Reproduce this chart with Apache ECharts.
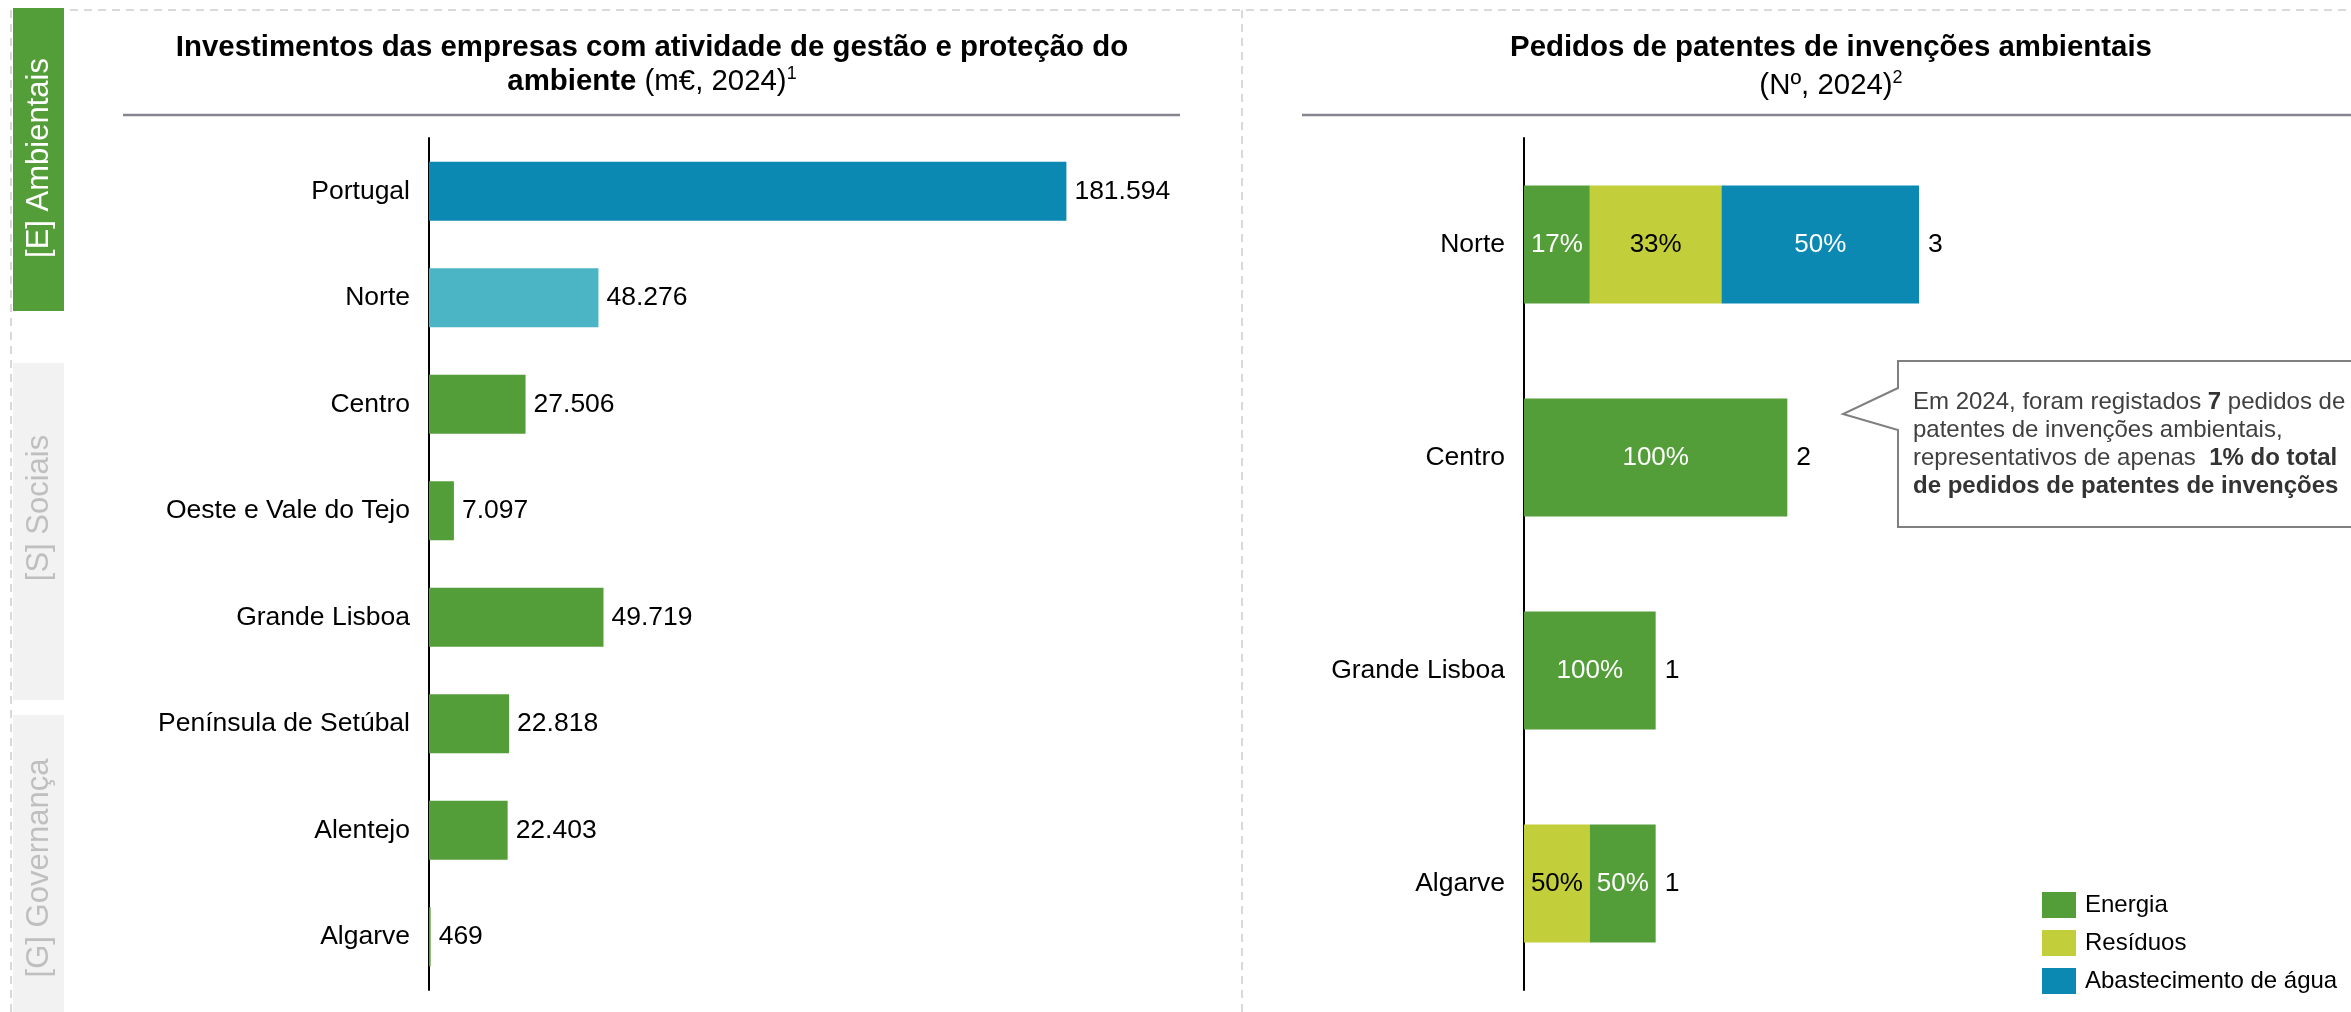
<!DOCTYPE html>
<html>
<head>
<meta charset="utf-8">
<script src="https://cdn.jsdelivr.net/npm/echarts@6/dist/echarts.min.js"></script>
<style>
  html, body { margin: 0; padding: 0; background: #fff; }
  #chart { width: 2351px; height: 1012px; }
</style>
</head>
<body>
<div id="chart"></div>
<script>
// Investimentos das empresas com atividade de gestão e proteção do ambiente (m€, 2024)
const investRegions = ['Portugal', 'Norte', 'Centro', 'Oeste e Vale do Tejo', 'Grande Lisboa', 'Península de Setúbal', 'Alentejo', 'Algarve'];
const investValues = [181594, 48276, 27506, 7097, 49719, 22818, 22403, 469];

// Pedidos de patentes de invenções ambientais (Nº, 2024), split by domain
const patentRegions = ['Norte', 'Centro', 'Grande Lisboa', 'Algarve'];
const energia = [0.5, 2, 1, 0.5];
const residuos = [1, 0, 0, 0.5];
const agua = [1.5, 0, 0, 0];
// regions where the Resíduos segment is drawn before Energia
const residuosFirst = ['Algarve'];

const FONT = 'Liberation Sans, Arial, sans-serif';
const GREEN = '#549E39';
const YELLOW = '#C2CF3A';
const BLUE = '#0B89B2';
const barColors = { 'Portugal': BLUE, 'Norte': '#4BB5C6' };

const fmtThousands = v => String(v).replace(/\B(?=(\d{3})+(?!\d))/g, '.');
const nz = v => (v > 0 ? v : null);

const totals = patentRegions.map((r, i) => energia[i] + residuos[i] + agua[i]);
const energiaBefore = patentRegions.map((r, i) => residuosFirst.includes(r) ? null : nz(energia[i]));
const energiaAfter = patentRegions.map((r, i) => residuosFirst.includes(r) ? nz(energia[i]) : null);

const pctLabel = (color) => ({
  show: true,
  position: 'inside',
  color: color,
  fontFamily: FONT,
  fontSize: 26,
  formatter: p => Math.round(p.value / totals[p.dataIndex] * 100) + '%'
});

const dash = { stroke: '#D9D9D9', lineWidth: 2, lineDash: [8, 6] };

const titleRich = {
  b: { fontFamily: FONT, fontSize: 29.4, fontWeight: 'bold', fill: '#000', lineHeight: 34 },
  n: { fontFamily: FONT, fontSize: 29.4, fill: '#000', lineHeight: 34 },
  sup: { fontFamily: FONT, fontSize: 18, fill: '#000', verticalAlign: 'top', lineHeight: 34 }
};

const chart = echarts.init(document.getElementById('chart'), null, { renderer: 'canvas' });

chart.setOption({
  animation: false,
  backgroundColor: '#fff',
  textStyle: { fontFamily: FONT },
  grid: [
    { left: 429, top: 138, width: 702, height: 852, containLabel: false },
    { left: 1524, top: 138, width: 790, height: 852, containLabel: false }
  ],
  xAxis: [
    { gridIndex: 0, type: 'value', min: 0, max: 200000, show: false },
    { gridIndex: 1, type: 'value', min: 0, max: 6, show: false }
  ],
  yAxis: [
    {
      gridIndex: 0, type: 'category', data: investRegions, inverse: true,
      axisLine: { lineStyle: { color: '#000', width: 2 } },
      axisTick: { show: false },
      axisLabel: { color: '#000', fontSize: 26.5, fontFamily: FONT, margin: 19 }
    },
    {
      gridIndex: 1, type: 'category', data: patentRegions, inverse: true,
      axisLine: { lineStyle: { color: '#000', width: 2 } },
      axisTick: { show: false },
      axisLabel: { color: '#000', fontSize: 26.5, fontFamily: FONT, margin: 19 }
    }
  ],
  legend: {
    data: ['Energia', 'Resíduos', 'Abastecimento de água'],
    orient: 'vertical',
    left: 2037, top: 887,
    itemWidth: 34, itemHeight: 26, itemGap: 12,
    icon: 'rect',
    selectedMode: false,
    textStyle: { color: '#000', fontSize: 24, fontFamily: FONT, padding: [0, 0, 0, 4] }
  },
  series: [
    {
      name: 'Investimentos', type: 'bar', xAxisIndex: 0, yAxisIndex: 0,
      barWidth: 59,
      data: investRegions.map((r, i) => ({
        value: investValues[i],
        itemStyle: { color: barColors[r] || GREEN }
      })),
      label: {
        show: true, position: 'right', distance: 8,
        color: '#000', fontSize: 26.5, fontFamily: FONT,
        formatter: p => fmtThousands(p.value)
      }
    },
    {
      name: 'Energia', type: 'bar', stack: 'p', xAxisIndex: 1, yAxisIndex: 1,
      barWidth: 118, itemStyle: { color: GREEN },
      data: energiaBefore, label: pctLabel('#fff')
    },
    {
      name: 'Resíduos', type: 'bar', stack: 'p', xAxisIndex: 1, yAxisIndex: 1,
      barWidth: 118, itemStyle: { color: YELLOW },
      data: residuos.map(nz), label: pctLabel('#000')
    },
    {
      name: 'Energia', type: 'bar', stack: 'p', xAxisIndex: 1, yAxisIndex: 1,
      barWidth: 118, itemStyle: { color: GREEN },
      data: energiaAfter, label: pctLabel('#fff')
    },
    {
      name: 'Abastecimento de água', type: 'bar', stack: 'p', xAxisIndex: 1, yAxisIndex: 1,
      barWidth: 118, itemStyle: { color: BLUE },
      data: agua.map(nz), label: pctLabel('#fff')
    },
    {
      name: 'Total', type: 'bar', xAxisIndex: 1, yAxisIndex: 1,
      barWidth: 118, barGap: '-100%', z: 1, silent: true,
      itemStyle: { color: 'rgba(0,0,0,0)' },
      data: totals,
      label: {
        show: true, position: 'right', distance: 9,
        color: '#000', fontSize: 26.5, fontFamily: FONT,
        formatter: '{c}'
      }
    }
  ],
  graphic: [
    // section frame
    { type: 'line', shape: { x1: 11, y1: 10, x2: 11, y2: 1012 }, style: dash, silent: true },
    { type: 'line', shape: { x1: 70, y1: 10, x2: 2351, y2: 10 }, style: dash, silent: true },
    { type: 'line', shape: { x1: 1242, y1: 10, x2: 1242, y2: 1012 }, style: dash, silent: true },

    // ESG side tabs
    { type: 'rect', shape: { x: 13, y: 8, width: 51, height: 303 }, style: { fill: GREEN }, silent: true },
    { type: 'rect', shape: { x: 13, y: 363, width: 51, height: 337 }, style: { fill: '#F2F2F2' }, silent: true },
    { type: 'rect', shape: { x: 13, y: 715, width: 51, height: 297 }, style: { fill: '#F2F2F2' }, silent: true },
    { type: 'text', x: 39, y: 158, rotation: Math.PI / 2, silent: true,
      style: { text: '[E] Ambientais', fill: '#fff', font: '31px ' + FONT, align: 'center', verticalAlign: 'middle' } },
    { type: 'text', x: 39, y: 508, rotation: Math.PI / 2, silent: true,
      style: { text: '[S] Sociais', fill: '#BFBFBF', font: '31px ' + FONT, align: 'center', verticalAlign: 'middle' } },
    { type: 'text', x: 39, y: 868, rotation: Math.PI / 2, silent: true,
      style: { text: '[G] Governança', fill: '#BFBFBF', font: '31px ' + FONT, align: 'center', verticalAlign: 'middle' } },

    // titles
    { type: 'text', x: 652, y: 48, silent: true,
      style: { text: 'Investimentos das empresas com atividade de gestão e proteção do', fill: '#000',
        font: 'bold 29.4px ' + FONT, align: 'center', verticalAlign: 'middle' } },
    { type: 'text', x: 652, y: 82, silent: true,
      style: { text: '{b|ambiente}{n| (m€, 2024)}{sup|1}', align: 'center', verticalAlign: 'middle', rich: titleRich } },
    { type: 'text', x: 1831, y: 48, silent: true,
      style: { text: 'Pedidos de patentes de invenções ambientais', fill: '#000',
        font: 'bold 29.4px ' + FONT, align: 'center', verticalAlign: 'middle' } },
    { type: 'text', x: 1831, y: 86, silent: true,
      style: { text: '{n|(Nº, 2024)}{sup|2}', align: 'center', verticalAlign: 'middle', rich: titleRich } },
    { type: 'line', shape: { x1: 123, y1: 115, x2: 1180, y2: 115 }, style: { stroke: '#85858F', lineWidth: 2.5 }, silent: true },
    { type: 'line', shape: { x1: 1302, y1: 115, x2: 2351, y2: 115 }, style: { stroke: '#85858F', lineWidth: 2.5 }, silent: true },

    // callout
    { type: 'polygon', silent: true,
      shape: { points: [[1898, 361], [2358, 361], [2358, 527], [1898, 527], [1898, 430], [1843, 414], [1898, 388]] },
      style: { fill: '#fff', stroke: '#7F7F7F', lineWidth: 2 } },
    { type: 'text', x: 1913, y: 444, silent: true,
      style: {
        text: 'Em 2024, foram registados {b|7} pedidos de\npatentes de invenções ambientais,\nrepresentativos de apenas  {b|1% do total}\n{b|de pedidos de patentes de invenções}',
        fill: '#404040', font: '24px ' + FONT, lineHeight: 28,
        align: 'left', verticalAlign: 'middle',
        rich: {
          b: { fontFamily: FONT, fontSize: 24, fontWeight: 'bold', fill: '#333', lineHeight: 28 }
        }
      } }
  ]
});
</script>
</body>
</html>
